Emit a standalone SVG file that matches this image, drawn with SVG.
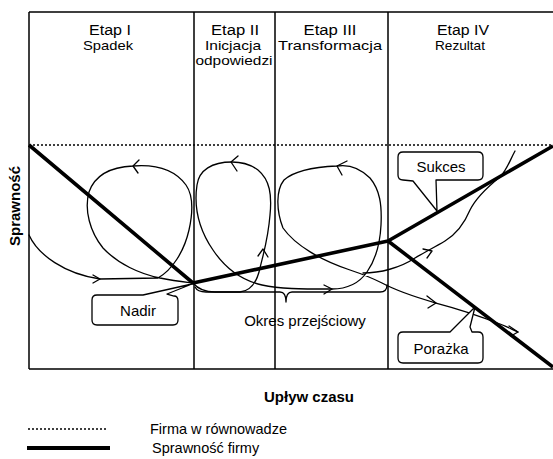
<svg xmlns="http://www.w3.org/2000/svg" width="553" height="459" viewBox="0 0 553 459">
<style>
text{font-family:"Liberation Sans",Arial,sans-serif;fill:#000}
.ti{font-size:14px;text-anchor:middle}
.st{font-size:13px;text-anchor:middle}
.lb{font-size:15px;text-anchor:middle}
.bd{font-size:15px;font-weight:bold;text-anchor:middle}
.lg{font-size:14.5px}
.fr{stroke:#000;stroke-width:1.5;fill:none}
.dot{stroke:#000;stroke-width:1.5;stroke-dasharray:2 2;fill:none}
.thick{stroke:#000;stroke-width:3.6;fill:none;stroke-linejoin:round}
.thin{stroke:#000;stroke-width:1.3;fill:none;stroke-linecap:round;stroke-linejoin:round}
.box{stroke:#000;stroke-width:1.3;fill:#fff;stroke-linejoin:round}
</style>
<rect width="553" height="459" fill="#fff"/>
<g id="frame">
<path class="fr" d="M29,12 H553 M29,369 H553 M29,12 V369 M194,12 V369 M275,12 V369 M388,12 V369"/>
<path class="dot" d="M29,145 H553"/>
</g>
<g id="stage1"><text class="ti" x="110" y="35" textLength="42" lengthAdjust="spacingAndGlyphs">Etap I</text><text class="st" x="108" y="50" textLength="50" lengthAdjust="spacingAndGlyphs">Spadek</text></g>
<g id="stage2"><text class="ti" x="235" y="35" textLength="48" lengthAdjust="spacingAndGlyphs">Etap II</text><text class="st" x="233" y="50" textLength="56" lengthAdjust="spacingAndGlyphs">Inicjacja</text><text class="st" x="234" y="65" textLength="77" lengthAdjust="spacingAndGlyphs">odpowiedzi</text></g>
<g id="stage3"><text class="ti" x="330" y="35" textLength="53" lengthAdjust="spacingAndGlyphs">Etap III</text><text class="st" x="330" y="50" textLength="104" lengthAdjust="spacingAndGlyphs">Transformacja</text></g>
<g id="stage4"><text class="ti" x="463" y="35" textLength="52" lengthAdjust="spacingAndGlyphs">Etap IV</text><text class="st" x="460" y="50" textLength="50" lengthAdjust="spacingAndGlyphs">Rezultat</text></g>
<g id="axes">
<text class="bd" transform="translate(20,206) rotate(-90)">Sprawność</text>
<text class="bd" x="309" y="402">Upływ czasu</text>
</g>
<g id="connectors">
<path class="thick" d="M29,145 L193,283 L388,241 L553,146 M388,241 L553,367"/>
<path class="thin" d="M29,235 C38,255 65,274 100,279 L158,278 C172,270 184,252 189,230 C193,212 193,195 186,185 C175,170 158,164 133,166 C110,167 95,175 89,192 C84,210 90,232 103,248 C118,264 140,274 160,278 C175,281 185,282 193,283 C198,289 205,292 215,292 L240,292 C250,291 257,282 260,268 C263,255 268,240 270,215 C272,195 270,180 258,170 C250,164 242,162 232,162 C212,162 199,170 197,185 C194,205 198,228 213,250 C225,268 240,280 262,285 C280,289 300,289 332,289 C350,289 360,282 367,272 C374,262 380,245 381,225 C382,205 380,190 370,178 C360,168 350,164 337,166 C315,167 295,170 284,180 C276,190 276,210 283,228 C295,245 320,260 350,270 C362,274 372,278 382,283 C397,291 415,297 436,303 C455,308 480,316 500,324 C508,327 513,330 518,332"/>
<path class="thin" d="M363,273 C380,273 400,268 415,258 C425,252 435,247 445,241 C458,233 465,222 470,210 C477,196 490,185 500,177 C507,170 510,160 515,151"/>
<path class="thin" d="M93,275 L100,279 L93,283 M139,160 L133,166 L138,173 M238,156 L231,162 L237,171 M258,256 L263,249 L268,257 M347,161 L337,166 L342,175 M324,285 L332,289 L324,294 M423,249 L432,251 L427,258 M427,296 L436,303 L428,308 M509,326 L518,332 L511,336"/>
</g>
<g id="okres">
<path class="thin" d="M195,287 C197,291 200,292 206,292 L280,292 C284,292 286,296 286,302 C286,296 288,292 292,292 L380,292 C384,292 387,290 387,285"/>
<text class="lb" x="305" y="326">Okres przejściowy</text>
</g>
<g id="nadir">
<path class="box" d="M97,295 L143,295 L192,284 L167,294 L174,296 Q178,296 178,301 L178,320 Q178,325 173,325 L97,325 Q92,325 92,320 L92,300 Q92,295 97,295 Z"/>
<text class="lb" x="138" y="316">Nadir</text>
</g>
<g id="sukces">
<path class="box" d="M403,152 L478,152 Q483,152 483,157 L483,175 Q483,180 478,180 L436,180 L437,211 L413,181 L403,180 Q398,180 398,175 L398,157 Q398,152 403,152 Z"/>
<text class="lb" x="441" y="172">Sukces</text>
</g>
<g id="porazka">
<path class="box" d="M403,332 L450,332 L475,307 L470,327 L472,332 L478,332 Q483,332 483,337 L483,358 Q483,363 478,363 L403,363 Q398,363 398,358 L398,337 Q398,332 403,332 Z"/>
<text class="lb" x="441" y="354">Porażka</text>
</g>
<g id="legend">
<path class="dot" d="M28,429 H108"/>
<path class="thick" d="M27,448 H110" style="stroke-width:4"/>
<text class="lg" x="150" y="434">Firma w równowadze</text>
<text class="lg" x="152" y="453">Sprawność firmy</text>
</g>
</svg>
